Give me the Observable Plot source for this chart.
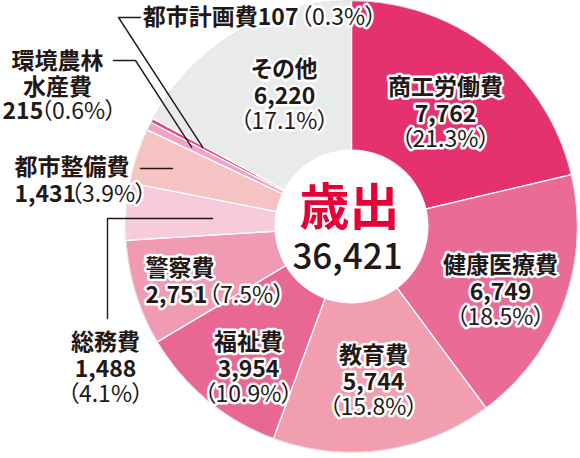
<!DOCTYPE html>
<html lang="ja">
<head>
<meta charset="utf-8">
<script src="https://cdn.jsdelivr.net/npm/d3@7"></script>
<script src="https://cdn.jsdelivr.net/npm/@observablehq/plot@0.6"></script>
<style>
  html, body { margin: 0; padding: 0; background: #fff; }
  #chart svg text { font-feature-settings: "palt"; }
</style>
</head>
<body>
<div id="chart"></div>
<script>
// ---- data ----
const categories = ["商工労働費", "健康医療費", "教育費", "福祉費", "警察費", "総務費", "都市整備費", "環境農林水産費", "都市計画費", "その他"];
const values = [7762, 6749, 5744, 3954, 2751, 1488, 1431, 215, 107, 6220];
const shares = ["21.3", "18.5", "15.8", "10.9", "7.5", "4.1", "3.9", "0.6", "0.3", "17.1"];
const colors = ["#e5316f", "#ea6b95", "#f19fae", "#e96893", "#f09ab3", "#f7cadc", "#f6c3c3", "#f0a3c6", "#e8457a", "#e9eaea"];
const centerTitle = "歳出";
const centerTotal = "36,421";

// ---- layout (pixels) ----
const W = 580, H = 458, CX = 351, CY = 226, R = 226, HOLE = 77;
const toX = px => (px - CX) / R;
const toY = py => (CY - py) / R;
const INK = "#231815";
const FONT = "'Noto Sans CJK JP', 'Noto Sans', sans-serif";

// ---- wedges from values ----
const total = d3.sum(values);
const wedges = [];
const mids = [];
let cum = 0;
categories.forEach((c, i) => {
  const a0 = cum / total * 2 * Math.PI;
  cum += values[i];
  const a1 = cum / total * 2 * Math.PI;
  mids.push((a0 + a1) / 2);
  const n = Math.max(2, Math.ceil((a1 - a0) / (Math.PI / 360)));
  wedges.push({cat: c, x: 0, y: 0});
  for (let k = 0; k <= n; ++k) {
    const a = a0 + (a1 - a0) * k / n;
    wedges.push({cat: c, x: Math.sin(a), y: Math.cos(a)});
  }
  wedges.push({cat: c, x: 0, y: 0});
});
const polar = (i, r) => ({x: r * Math.sin(mids[i]), y: r * Math.cos(mids[i])});

// ---- leader lines ----
const leaderPx = [
  {id: 8, pts: [[143, 17], [118, 17]], r: 0.745},
  {id: 7, pts: [[113, 60], [135, 60]], r: 0.79},
  {id: 6, pts: [[140, 168], [172, 168]]},
  {id: 5, pts: [[107, 318], [107, 218], [212, 218]]}
];
const leaders = [];
leaderPx.forEach(l => {
  l.pts.forEach(([px, py]) => leaders.push({g: l.id, x: toX(px), y: toY(py)}));
  if (l.r) { const p = polar(l.id, l.r); leaders.push({g: l.id, ...p}); }
});

// ---- labels ----
const pct = i => "（" + shares[i] + "%）";
const fmt = d3.format(",");
const stacked = [ // index, center x, y of first line
  [0, 445, 87], [1, 500, 265], [2, 373, 355], [3, 248, 342], [9, 284, 69], [5, 105, 342]
];
const labels = [];
stacked.forEach(([i, x, y]) => {
  labels.push({t: categories[i], x, y, a: "middle", w: 700});
  labels.push({t: fmt(values[i]), x, y: y + 27, a: "middle", w: 700});
  labels.push({t: pct(i), x, y: y + 52, a: "middle", w: 400});
});
// 警察費
labels.push({t: categories[4], x: 145, y: 268, a: "start", w: 700});
labels.push({t: fmt(values[4]), x: 145, y: 295, a: "start", w: 700});
labels.push({t: pct(4), x: 208, y: 295, a: "start", w: 400});
// 都市整備費
labels.push({t: categories[6], x: 14, y: 167, a: "start", w: 700});
labels.push({t: fmt(values[6]), x: 14, y: 194, a: "start", w: 700});
labels.push({t: pct(6), x: 70, y: 194, a: "start", w: 400});
// 環境農林水産費
labels.push({t: categories[7].slice(0, 4), x: 57, y: 61, a: "middle", w: 700});
labels.push({t: categories[7].slice(4), x: 57, y: 87, a: "middle", w: 700});
labels.push({t: fmt(values[7]), x: 2, y: 111, a: "start", w: 700});
labels.push({t: pct(7), x: 40, y: 111, a: "start", w: 400});
// 都市計画費
labels.push({t: categories[8] + fmt(values[8]), x: 298, y: 17, a: "end", w: 700});
labels.push({t: pct(8), x: 300, y: 17, a: "start", w: 400});
labels.forEach(d => { d.x = toX(d.x); d.y = toY(d.y); });

const textMark = (w, a) => Plot.text(labels.filter(d => d.w === w && d.a === a), {
  x: "x", y: "y", text: "t", textAnchor: a,
  fill: INK, stroke: "white", strokeWidth: 5, strokeLinejoin: "round",
  fontSize: 23, fontWeight: w, fontFamily: FONT
});

const plot = Plot.plot({
  width: W, height: H,
  margin: 0,
  style: {background: "transparent", overflow: "visible"},
  x: {domain: [-1, 1], range: [CX - R, CX + R], axis: null},
  y: {domain: [-1, 1], range: [CY + R, CY - R], axis: null},
  color: {domain: categories, range: colors},
  marks: [
    Plot.line(wedges, {x: "x", y: "y", z: "cat", fill: "cat", stroke: "white", strokeWidth: 1.3, strokeLinejoin: "round", curve: "linear"}),
    Plot.dot([{x: 0, y: 0}], {x: "x", y: "y", r: R, fill: "none", stroke: "#d5d5d5", strokeWidth: 0.8}),
    Plot.dot([{x: 0, y: 0}], {x: "x", y: "y", r: HOLE, fill: "white"}),
    Plot.line(leaders, {x: "x", y: "y", z: "g", stroke: INK, strokeWidth: 1.4, curve: "linear"}),
    ...["start", "middle", "end"].flatMap(a => [textMark(700, a), textMark(400, a)]),
    Plot.text([{t: centerTitle, x: toX(349), y: toY(208)}], {x: "x", y: "y", text: "t", fill: "#e60033", fontSize: 50, fontWeight: 700, fontFamily: FONT}),
    Plot.text([{t: centerTotal, x: toX(347), y: toY(257)}], {x: "x", y: "y", text: "t", fill: INK, fontSize: 35, fontWeight: 500, fontFamily: FONT})
  ]
});
document.getElementById("chart").appendChild(plot);
</script>
</body>
</html>
